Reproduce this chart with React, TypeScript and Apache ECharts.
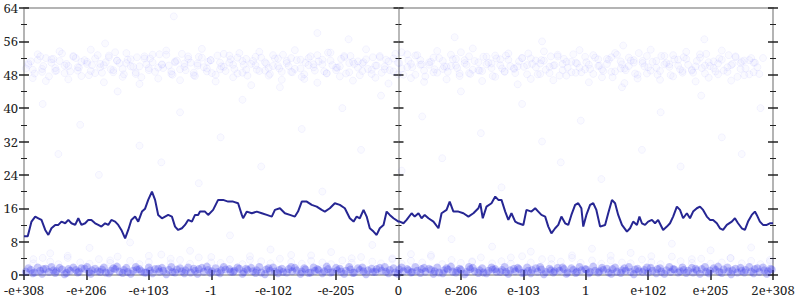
import React, { useEffect, useRef } from "react";
import * as echarts from "echarts";

const xLabels = ["-e+308", "-e+206", "-e+103", "-1", "-e-102", "-e-205", "0", "e-206", "e-103", "1", "e+102", "e+205", "2e+308"];
const yTicks = { min: 0, max: 64, interval: 8 };

const lineData: number[][] = [
  [0, 9.3], [0.06, 9.3], [0.12, 12.8], [0.18, 14.0], [0.23, 13.6], [0.28, 13.2], [0.34, 10.8], [0.39, 9.6], [0.44, 11.2], [0.5, 12.0],
  [0.55, 12.0], [0.6, 12.8], [0.66, 12.4], [0.71, 13.2], [0.76, 12.4], [0.82, 12.0], [0.87, 13.6], [0.92, 12.0], [0.98, 12.4], [1.03, 13.2],
  [1.08, 13.2], [1.14, 12.4], [1.19, 12.0], [1.24, 11.6], [1.3, 12.4], [1.35, 12.0], [1.4, 13.2], [1.46, 12.8], [1.51, 12.0], [1.56, 10.8],
  [1.62, 8.8], [1.67, 10.8], [1.72, 13.2], [1.78, 14.0], [1.83, 12.8], [1.89, 15.2], [1.94, 15.9], [1.99, 18.0], [2.05, 20.0], [2.1, 18.0],
  [2.15, 14.4], [2.21, 13.6], [2.26, 14.0], [2.31, 14.4], [2.37, 14.0], [2.42, 11.6], [2.47, 10.8], [2.53, 11.2], [2.58, 12.0], [2.63, 13.2],
  [2.69, 12.8], [2.74, 14.4], [2.79, 14.4], [2.82, 15.2], [2.9, 15.2], [2.95, 14.4], [3.03, 15.6], [3.11, 18.0], [3.19, 18.0], [3.27, 17.6],
  [3.35, 17.6], [3.43, 17.2], [3.49, 14.4], [3.51, 13.6], [3.57, 15.2], [3.65, 14.8], [3.73, 15.2], [3.81, 14.8], [3.89, 14.4], [3.97, 14.0],
  [4.02, 15.6], [4.1, 16.0], [4.18, 14.8], [4.26, 14.4], [4.34, 14.0], [4.39, 15.2], [4.45, 17.6], [4.53, 17.6], [4.61, 16.8], [4.69, 16.4],
  [4.77, 15.6], [4.82, 15.2], [4.9, 16.0], [4.98, 17.2], [5.06, 16.8], [5.14, 16.0], [5.22, 13.6], [5.28, 12.8], [5.33, 14.0], [5.38, 13.6],
  [5.44, 15.6], [5.49, 14.0], [5.54, 11.2], [5.6, 10.4], [5.65, 9.6], [5.7, 11.2], [5.76, 12.0], [5.81, 15.2], [5.86, 14.4], [5.92, 13.6],
  [6.0, 12.8], [6.02, 12.8], [6.08, 12.4], [6.13, 13.2], [6.21, 14.8], [6.26, 14.0], [6.32, 14.8], [6.37, 13.6], [6.42, 14.4], [6.48, 13.6],
  [6.56, 12.8], [6.64, 11.2], [6.69, 14.8], [6.77, 15.6], [6.82, 17.6], [6.88, 15.2], [6.96, 15.2], [7.04, 14.8], [7.12, 14.0], [7.2, 14.8],
  [7.28, 16.0], [7.31, 17.2], [7.35, 13.6], [7.41, 16.4], [7.49, 17.2], [7.55, 18.8], [7.6, 18.0], [7.65, 18.0], [7.71, 15.2], [7.76, 13.2],
  [7.81, 14.8], [7.87, 12.8], [7.92, 12.4], [8.0, 12.0], [8.05, 15.6], [8.13, 15.2], [8.19, 16.0], [8.24, 15.2], [8.29, 14.4], [8.35, 14.0],
  [8.4, 11.6], [8.45, 10.0], [8.51, 11.2], [8.56, 12.0], [8.61, 14.0], [8.67, 12.4], [8.72, 12.0], [8.77, 14.4], [8.83, 16.8], [8.88, 17.2],
  [8.93, 16.0], [8.96, 11.6], [9.01, 14.4], [9.07, 16.8], [9.12, 17.2], [9.17, 15.6], [9.23, 11.6], [9.31, 12.0], [9.36, 14.8], [9.42, 18.0],
  [9.47, 17.2], [9.52, 14.4], [9.58, 12.0], [9.66, 10.4], [9.71, 11.2], [9.76, 12.8], [9.82, 12.0], [9.86, 14.0], [9.9, 12.4], [9.95, 12.0],
  [10.0, 12.8], [10.06, 13.2], [10.11, 12.4], [10.16, 13.2], [10.24, 10.8], [10.3, 11.6], [10.35, 12.4], [10.4, 14.0], [10.46, 16.4], [10.51, 15.6],
  [10.56, 13.6], [10.62, 14.8], [10.67, 13.6], [10.72, 15.2], [10.78, 16.0], [10.83, 16.4], [10.88, 15.6], [10.94, 14.0], [10.99, 13.2], [11.04, 13.2],
  [11.1, 12.4], [11.15, 11.2], [11.2, 10.8], [11.26, 12.0], [11.34, 12.8], [11.39, 13.6], [11.44, 12.4], [11.5, 11.2], [11.55, 10.8], [11.6, 12.8],
  [11.66, 14.4], [11.71, 15.2], [11.74, 14.4], [11.79, 12.8], [11.84, 12.0], [11.9, 12.0], [11.95, 12.4], [12.0, 12.4],
];

const scatterXA = [0.03,0.11,0.17,0.26,0.31,0.4,0.47,0.52,0.61,0.68,0.74,0.83,0.88,0.97,1.04,1.09,1.18,1.25,1.31,1.39,1.46,1.53,1.6,1.66,1.75,1.81,1.88,1.96,2.02,2.1,2.17,2.23,2.32,2.38,2.45,2.53,2.59,2.67,2.74,2.8,2.88,2.95,3.01,3.1,3.16,3.23,3.31,3.37,3.45,3.52,3.58,3.67,3.73,3.8,3.88,3.94,4.02,4.09,4.15,4.24,4.3,4.37,4.45,4.51,4.59,4.66,4.72,4.81,4.87,4.94,5.02,5.08,5.16,5.23,5.29,5.38,5.44,5.51,5.59,5.65,5.73,5.8,5.86,5.95,6.01,6.08,6.16,6.22,6.3,6.37,6.43,6.52,6.58,6.65,6.73,6.79,6.87,6.94,7.0,7.09,7.15,7.22,7.3,7.36,7.44,7.51,7.57,7.66,7.72,7.79,7.87,7.93,8.01,8.08,8.14,8.23,8.29,8.36,8.44,8.5,8.58,8.65,8.71,8.8,8.86,8.93,9.01,9.07,9.15,9.22,9.28,9.37,9.43,9.5,9.58,9.64,9.72,9.79,9.85,9.94,10.0,10.07,10.15,10.21,10.29,10.36,10.42,10.51,10.57,10.64,10.72,10.78,10.86,10.93,10.99,11.08,11.14,11.21,11.29,11.35,11.43,11.5,11.56,11.65,11.71,11.78,11.86,11.92,11.98];

const scatterXB = [0.07,0.14,0.22,0.29,0.35,0.44,0.5,0.57,0.65,0.71,0.79,0.86,0.92,1.01,1.07,1.14,1.22,1.28,1.36,1.43,1.49,1.58,1.64,1.71,1.79,1.85,1.93,2.0,2.06,2.15,2.21,2.28,2.36,2.42,2.5,2.57,2.63,2.72,2.78,2.85,2.93,2.99,3.07,3.14,3.2,3.29,3.35,3.42,3.5,3.56,3.64,3.71,3.77,3.86,3.92,3.99,4.07,4.13,4.21,4.28,4.34,4.43,4.49,4.56,4.64,4.7,4.78,4.85,4.91,5.0,5.06,5.13,5.21,5.27,5.35,5.42,5.48,5.57,5.63,5.7,5.78,5.84,5.92,5.99,6.05,6.14,6.2,6.27,6.35,6.41,6.49,6.56,6.62,6.71,6.77,6.84,6.92,6.98,7.06,7.13,7.19,7.28,7.34,7.41,7.49,7.55,7.63,7.7,7.76,7.85,7.91,7.98,8.06,8.12,8.2,8.27,8.33,8.42,8.48,8.55,8.63,8.69,8.77,8.84,8.9,8.99,9.05,9.12,9.2,9.26,9.34,9.41,9.47,9.56,9.62,9.69,9.77,9.83,9.91,9.98,10.04,10.13,10.19,10.26,10.34,10.4,10.48,10.55,10.61,10.7,10.76,10.83,10.91,10.97,11.05,11.12,11.18,11.27,11.33,11.4,11.48,11.54,11.62,11.69,11.75,11.84,11.9,11.96];

const bottomY1 = [0.8,1.2,0.6,1.0,1.4,0.7,1.1,0.9,1.3,0.5,1.0,1.2,0.8,1.5,0.7,1.1,0.9,1.3,0.6,1.0,1.4,0.8,1.2,0.7,1.0,1.3,0.9,0.6,1.1,1.4,0.8,1.0,1.2,0.7,1.3,0.9,1.1,0.6,1.0,1.4,0.8,1.2,0.9,0.7,1.1,1.3,0.8,1.0,1.5,0.7,1.2,0.9,1.1,0.6,1.3,1.0,0.8,1.2,0.7,1.4,0.9,1.1,0.8,1.3,0.6,1.0,1.2,0.9,1.4,0.7,1.1,0.8,1.0,1.3,0.6,1.2,0.9,1.1,0.7,1.4,1.0,0.8,1.2,0.6,1.3,0.9,1.1,0.7,1.0,1.4,0.8,1.2,0.9,0.6,1.1,1.3,0.8,1.0,1.2,0.7,1.4,0.9,1.1,0.6,1.0,1.3,0.8,1.2,0.7,1.1,0.9,1.4,0.6,1.0,1.2,0.8,1.3,0.7,1.1,0.9,1.0,1.4,0.6,1.2,0.8,1.1,1.3,0.7,1.0,0.9,1.2,0.6,1.4,0.8,1.1,1.0,0.7,1.3,0.9,1.2,0.6,1.0,1.4,0.8,1.1,0.7,1.3,0.9,1.2,1.0,0.6,1.1,1.4,0.8,1.0,1.2,0.7,1.3,0.9,1.1,0.6,1.0,1.2,0.8,1.4,0.7,1.1,0.9,1.3,1.0];

const bottomY2 = [1.6,0.4,1.8,0.3,1.5,1.9,0.5,1.7,0.2,1.4,1.8,0.6,1.6,1.9,0.3,1.5,0.7,1.8,0.4,1.6,2.0,0.5,1.7,0.3,1.9,1.4,0.6,1.8,0.4,1.5,1.7,0.2,1.9,0.6,1.6,0.4,1.8,1.5,0.3,1.7,2.0,0.5,1.6,0.4,1.9,1.4,0.7,1.8,0.3,1.5,1.7,0.5,1.9,0.2,1.6,1.8,0.4,1.5,0.6,1.9,1.7,0.3,1.6,0.5,1.8,1.4,0.4,2.0,0.6,1.7,1.5,0.3,1.9,0.5,1.6,1.8,0.2,1.5,0.7,1.7,1.9,0.4,1.6,0.3,1.8,1.4,0.6,1.9,0.5,1.7,1.5,0.3,1.8,0.4,1.6,2.0,0.6,1.5,0.2,1.9,1.7,0.5,1.6,0.4,1.8,1.4,0.7,1.9,0.3,1.5,1.7,0.5,1.8,0.4,1.6,1.9,0.2,1.5,0.6,1.7,1.8,0.3,1.6,0.5,1.9,1.4,0.4,2.0,0.6,1.7,1.5,0.3,1.8,0.5,1.6,1.9,0.2,1.5,0.7,1.8,1.7,0.4,1.6,0.3,1.9,1.4,0.6,1.8,0.5,1.7,1.5,0.3,1.9,0.4,1.6,2.0,0.5,1.8,0.2,1.5,1.7,0.6,1.9,0.4,1.6,1.8,0.3,1.5];

const lowY = [2.8,4.1,3.2,2.6,4.6,3.0,2.7,3.8,2.9,4.4,3.4,2.6,3.1,4.9,2.8,3.6,2.7,4.2,3.0,2.9,3.7,2.6,4.5,3.3,2.8,3.9,3.1,2.7,4.7,3.0,2.6,3.5,2.9,4.3,3.2,2.8,4.0,2.7,3.4,3.0,4.8,2.6,3.6,2.9,3.1,4.2,2.8,3.3,2.7,4.5,3.0,3.8,2.6,3.2,4.1,2.9,3.5,2.7,4.6,3.0,2.8,3.7,3.1,2.6,4.4,3.3,2.9,3.9,2.7,3.0,4.0,2.8,3.4,2.6,3.2];

const topY1 = [49.5,51.2,48.3,52.4,50.1,47.6,51.8,49.0,53.1,50.6,48.8,52.0,49.7,51.5,47.9,50.3,52.7,48.5,51.0,49.3,53.4,50.8,48.1,51.6,49.9,52.2,47.4,50.5,51.9,48.7,52.9,49.6,50.2,48.0,51.4,53.0,49.1,50.9,47.7,52.3,49.8,51.1,48.4,52.6,50.0,48.9,51.7,49.4,53.2,50.4,47.8,51.3,49.2,52.1,50.7,48.2,51.9,49.5,52.8,50.1,48.6,51.5,47.5,50.9,52.4,49.0,51.2,48.8,53.3,50.3,49.7,51.8,48.3,52.5,50.6,47.9,51.0,49.4,52.2,50.2,48.5,51.6,49.1,53.0,50.8,48.0,51.4,49.8,52.7,50.5,47.6,51.1,49.3,52.0,50.0,48.7,51.7,49.6,53.4,50.4,48.2,51.3,49.0,52.3,50.9,47.7,51.9,49.5,52.6,50.1,48.4,51.2,49.9,53.1,50.6,48.1,51.5,49.2,52.4,50.3,47.8,51.8,49.7,52.9,50.7,48.6,51.0,49.4,52.1,50.2,48.9,51.6,47.4,52.8,50.5,49.1,51.4,48.3,53.2,50.0,49.8,51.1,48.0,52.5,50.8,47.9,51.7,49.3,52.2,50.4,48.5,51.3,49.6,53.0,50.1,48.8,51.9,49.0,52.7,50.6,47.5,51.2,49.5,52.0,50.9,48.2];

const topY2 = [50.8,47.2,52.9,49.4,46.5,51.7,48.9,53.6,50.2,46.9,52.3,49.8,47.7,51.1,54.0,48.4,50.6,46.2,52.6,49.1,51.4,47.5,53.2,50.0,48.6,45.8,51.9,49.6,52.8,47.1,50.4,53.8,48.2,51.0,46.7,49.9,52.4,47.9,50.7,54.2,48.8,51.5,46.4,49.3,53.0,50.9,47.4,52.1,48.5,51.8,45.5,50.3,53.5,49.0,47.8,52.7,50.1,46.8,51.3,48.7,53.9,49.5,47.0,52.0,50.5,46.1,51.6,48.3,53.3,49.7,47.6,52.5,50.8,46.6,51.2,48.9,54.1,49.2,47.3,52.2,50.0,45.9,51.9,48.1,53.4,49.8,47.2,52.6,50.4,46.3,51.0,48.6,53.7,49.4,46.9,52.8,50.2,47.7,51.5,48.4,54.3,49.1,46.5,52.3,50.7,47.5,51.7,48.8,53.1,49.6,45.7,52.0,50.3,47.0,51.4,48.2,53.6,49.9,46.7,52.4,50.6,47.8,51.1,48.5,53.9,49.3,46.2,52.7,50.1,47.4,51.8,48.7,53.2,49.5,46.0,52.1,50.9,47.1,51.3,48.3,54.0,49.7,46.8,52.5,50.5,47.6,51.6,48.9,53.5,49.0,46.4,52.9,50.2,47.3,51.2,48.1,53.8,49.8,46.6,52.2,50.8,47.9,51.5,48.6];

const topY3 = [50.4,49.2,51.6,48.7,52.0,50.9,49.6,51.3,48.4,50.1,52.5,49.0,51.1,50.6,48.9,51.9,49.8,50.3,52.2,48.6,51.4,49.4,50.8,51.7,48.2,50.0,52.4,49.1,51.0,49.7,50.5,52.8,48.8,51.2,49.3,50.7,51.8,48.5,50.2,52.1,49.5,51.5,48.0,50.9,49.9,52.6,50.4,48.3,51.3,49.2,50.6,52.3,48.9,51.0,49.6,50.1,51.9,48.7,50.8,52.0,49.4,51.6,48.1,50.3,49.8,52.7,50.5,48.4,51.4,49.1,50.0,52.2,48.6,51.1,49.7,50.7,51.7,48.2,50.2,52.5,49.3,51.2,48.8,50.9,49.5,52.9,50.6,48.0,51.5,49.0,50.4,52.1,48.5,51.3,49.9,50.1,51.8,48.3,50.8,52.4,49.2,51.0,48.9,50.5,49.6,52.6,50.3,48.7,51.6,49.4,50.0,52.0,48.1,51.9,49.8,50.7,51.4,48.4,50.2,52.8,49.1,51.1,48.6,50.9,49.7,52.3,50.4,48.2,51.7,49.3,50.6,52.2,48.8,51.2,49.5,50.1,51.5,48.0,50.8,52.5,49.0,51.3,48.9,50.5,49.9,52.7,50.2,48.5,51.8,49.2,50.0,52.1,48.3,51.0,49.6,50.7,51.6,48.7,50.3,52.4,49.4,51.4,48.1,50.9,49.8,52.0];

const midX = [0.15,0.3,0.42,0.55,0.7,0.9,1.05,1.2,1.38,1.5,1.7,1.85,2.0,2.2,2.35,2.5,2.66,2.8,3.0,3.15,3.3,3.5,3.62,3.8,3.95,4.1,4.28,4.45,4.6,4.78,4.92,5.1,5.25,5.4,5.58,5.72,5.9,6.05,6.2,6.38,6.52,6.7,6.85,7.0,7.18,7.32,7.5,7.65,7.8,7.98,8.12,8.3,8.45,8.6,8.78,8.92,9.1,9.25,9.4,9.58,9.72,9.9,10.05,10.2,10.38,10.52,10.7,10.85,11.0,11.18,11.32,11.5,11.65,11.8,11.95];
const midY = [3.8,41,5.2,29,4.1,36,6.5,24,3.5,44,7.8,31,4.6,27,3.9,39,5.8,22,4.3,33,9.5,42,3.6,26,6.1,45,4.8,35,3.4,20,5.5,40,4.0,30,7.2,43,3.7,25,5.0,38,4.4,28,8.6,44,3.3,34,6.8,21,4.2,41,5.6,32,3.9,27,4.7,37,6.3,23,3.5,45,5.3,30,4.5,39,7.5,26,3.8,43,5.9,33,4.1,29,6.6,40,3.6];
const highX = [1.3, 2.4, 4.7, 5.2, 6.9, 8.3, 9.6, 10.9];
const highY = [55.5, 62, 58, 56.5, 57, 56, 55, 56.5];

function pairs(xs: number[], ys: number[]) {
  const n = Math.min(xs.length, ys.length);
  const out: number[][] = [];
  for (let i = 0; i < n; i++) out.push([xs[i], ys[i]]);
  return out;
}

const FONT = "Noto Serif";
const GRAY = "#b4b4b4";
const INK = "#222";

function yAxisBase(position: "left" | "right", inside: boolean, showLabel: boolean, offset = 0, lineWidth = 2) {
  return {
    type: "value",
    position,
    offset,
    min: yTicks.min,
    max: yTicks.max,
    interval: yTicks.interval,
    axisLine: { show: true, onZero: false, lineStyle: { color: GRAY, width: lineWidth } },
    axisTick: { show: true, inside, length: 5, lineStyle: { color: INK, width: 1.5 } },
    minorTick: { show: true, splitNumber: 2, length: 3, lineStyle: { color: INK, width: 1 } },
    axisLabel: { show: showLabel, margin: 6, fontFamily: FONT, fontSize: 13, color: INK },
    splitLine: { show: false },
    minorSplitLine: { show: false },
  };
}

function xAxisBase(position: "bottom" | "top", inside: boolean, showLabel: boolean, showTick: boolean) {
  return {
    type: "value",
    position,
    min: 0,
    max: 12,
    interval: 1,
    axisLine: { show: true, onZero: false, lineStyle: { color: GRAY, width: 2 } },
    axisTick: { show: showTick, inside, length: 5, lineStyle: { color: INK, width: 1.5 } },
    axisLabel: {
      show: showLabel,
      margin: 8,
      fontFamily: FONT,
      fontSize: 13,
      color: INK,
      formatter: (v: number) => xLabels[Math.round(v)] ?? "",
    },
    splitLine: { show: false },
  };
}

export default function App() {
  const ref = useRef<HTMLDivElement>(null);
  useEffect(() => {
    if (!ref.current) return;
    const chart = echarts.init(ref.current, null, { renderer: "svg" });
    const faint = { color: "rgba(40,40,255,0.03)", borderColor: "rgba(40,40,255,0.06)", borderWidth: 1 };
    const dense = { color: "rgba(60,60,235,0.36)", borderWidth: 0 };
    chart.setOption({
      animation: false,
      backgroundColor: "#fff",
      grid: { left: 24, right: 27, top: 8, bottom: 25, containLabel: false },
      xAxis: [
        xAxisBase("bottom", false, true, true),
        xAxisBase("bottom", true, false, true),
        xAxisBase("top", false, false, false),
      ],
      yAxis: [
        yAxisBase("left", false, true),
        yAxisBase("left", true, false),
        yAxisBase("right", false, false),
        yAxisBase("right", true, false),
        yAxisBase("left", false, false, -374.5, 1.5),
        yAxisBase("left", true, false, -374.5, 1.5),
      ],
      series: [
        { type: "scatter", symbolSize: 7, itemStyle: faint, data: pairs(scatterXA, topY1), z: 2 },
        { type: "scatter", symbolSize: 7, itemStyle: faint, data: pairs(scatterXB, topY2), z: 2 },
        { type: "scatter", symbolSize: 7, itemStyle: faint, data: pairs(scatterXB, topY3), z: 2 },
        { type: "scatter", symbolSize: 7, itemStyle: faint, data: pairs(midX, midY), z: 2 },
        { type: "scatter", symbolSize: 7, itemStyle: faint, data: pairs(highX, highY), z: 2 },
        { type: "scatter", symbolSize: 7, itemStyle: faint, data: pairs(midX, lowY), z: 2 },
        { type: "scatter", symbolSize: 8, itemStyle: dense, data: pairs(scatterXA, bottomY1), z: 2 },
        { type: "scatter", symbolSize: 8, itemStyle: dense, data: pairs(scatterXB, bottomY2), z: 2 },
        {
          type: "line",
          data: lineData,
          showSymbol: false,
          symbol: "none",
          lineStyle: { color: "#262693", width: 2 },
          z: 5,
        },
      ],
    });
    return () => chart.dispose();
  }, []);
  return <div ref={ref} style={{ position: "fixed", left: 0, top: 0, width: 800, height: 300 }} />;
}
